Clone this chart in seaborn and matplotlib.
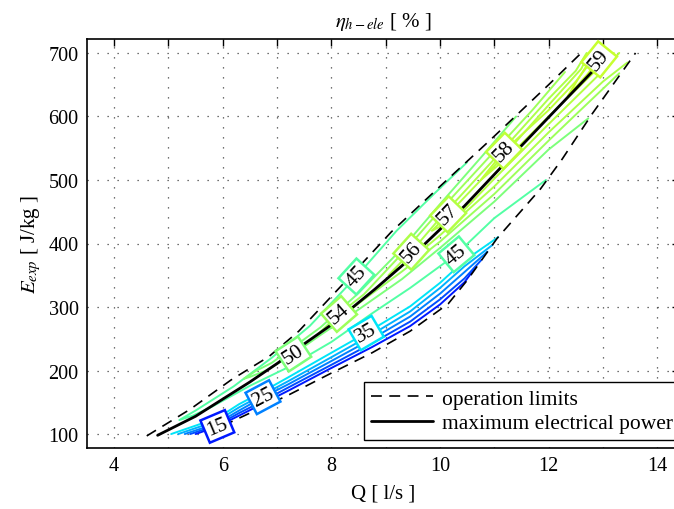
import math
import matplotlib
matplotlib.use("Agg")
import matplotlib.pyplot as plt
import seaborn as sns
from matplotlib.lines import Line2D

# ------------------------------------------------------------------ data
x_ticks = [4, 5, 6, 7, 8, 9, 10, 11, 12, 13, 14]
x_tick_labels = ["4", "", "6", "", "8", "", "10", "", "12", "", "14"]
y_ticks = [100, 200, 300, 400, 500, 600, 700]

# operation limits (upper and lower) and maximum electrical power line
upper_q = [4.6, 5.4, 6.15, 6.85, 7.4, 8.2, 9.1, 10.0, 10.95, 12.0, 12.6]
upper_e = [97, 139, 185, 222, 262, 335, 418, 490, 565, 650, 700]
lower_q = [6.0, 6.3, 7.2, 8.0, 8.75, 9.45, 10.15, 10.5, 11.05, 11.85, 12.25, 12.8, 13.6]
lower_e = [113, 125, 161, 196, 228, 262, 305, 342, 408, 486, 533, 604, 700]
pmax_q = [4.8, 5.5, 6.0, 6.5, 7.0, 7.5, 8.0, 8.8, 9.3, 10.45, 11.5, 12.55, 13.13]
pmax_e = [98, 128, 155, 182, 211, 242, 272, 328, 365, 459, 554, 648, 700]

# efficiency iso-lines  eta_h-ele [%]
c15_q = [5.5, 5.9, 6.3, 6.74, 7.2, 8.0, 8.75, 9.45, 10.0, 10.45, 10.65]
c15_e = [100, 112, 129, 148, 168, 204, 237, 270, 304, 339, 362]
c20_q = [5.4, 5.9, 6.3, 6.74, 7.2, 8.0, 8.75, 9.45, 10.0, 10.45, 10.76]
c20_e = [100, 114, 133, 152, 173, 209, 243, 277, 312, 345, 374]
c25_q = [5.3, 5.9, 6.3, 6.74, 7.2, 8.0, 8.75, 9.45, 10.0, 10.45, 10.87]
c25_e = [100, 117, 137, 158, 178, 215, 250, 285, 321, 355, 387]
c30_q = [5.18, 5.9, 6.3, 6.74, 7.2, 8.0, 8.75, 9.45, 10.0, 10.45, 10.97]
c30_e = [100, 121, 142, 162, 183, 221, 257, 293, 330, 364, 398]
c35_q = [5.05, 5.9, 6.3, 6.74, 7.2, 8.0, 8.64, 9.45, 10.0, 10.45, 11.07]
c35_e = [100, 125, 147, 167, 189, 228, 259, 301, 338, 373, 410]
c45_q = [11.95, 11.0, 10.3, 9.45, 8.75, 8.0, 7.2, 6.5, 5.8, 5.45, 5.2,
         5.5, 6.2, 6.9, 7.6, 8.46, 9.2, 9.9, 10.5]
c45_e = [500, 440, 383, 330, 290, 245, 205, 176, 143, 129, 122,
         137, 175, 220, 270, 348, 420, 479, 528]
c50_q = [12.73, 12.0, 11.0, 10.0, 9.3, 8.5, 7.8, 7.3, 6.8, 6.5, 6.39,
         6.6, 6.9, 7.4, 7.8, 8.5, 9.3, 10.0, 10.8, 11.4]
c50_e = [597, 548, 466, 393, 344, 296, 256, 226, 200, 190, 187,
         199, 212, 243, 268, 322, 392, 462, 540, 600]
c54_q = [13.3, 12.5, 12.0, 11.0, 10.0, 9.3, 8.6, 8.1, 7.75,
         8.14, 8.6, 9.3, 10.0, 11.0, 11.7, 12.3]
c54_e = [668, 603, 562, 478, 403, 356, 312, 279, 257,
         289, 320, 384, 452, 545, 610, 670]
c56_q = [13.45, 13.0, 12.0, 11.0, 10.0, 9.5, 9.05,
         9.47, 10.0, 11.0, 12.0, 12.5, 12.7]
c56_e = [685, 655, 575, 490, 413, 377, 350,
         387, 440, 533, 628, 672, 700]
c57_q = [13.3, 13.0, 12.0, 11.0, 10.3, 9.85,
         10.15, 11.0, 12.0, 12.6, 12.75]
c57_e = [700, 672, 588, 502, 440, 420,
         446, 522, 618, 675, 700]
c58_q = [13.2, 12.0, 11.3, 10.75, 11.18, 12.0, 12.5, 12.9]
c58_e = [700, 600, 540, 500, 546, 610, 655, 700]
c59_q = [13.03, 12.93, 12.7, 12.35, 12.55, 12.85]
c59_e = [700, 690, 665, 632, 660, 700]

levels = [15, 20, 25, 30, 35, 45, 50, 54, 56, 57, 58, 59]
level_q = [c15_q, c20_q, c25_q, c30_q, c35_q, c45_q, c50_q, c54_q, c56_q, c57_q, c58_q, c59_q]
level_e = [c15_e, c20_e, c25_e, c30_e, c35_e, c45_e, c50_e, c54_e, c56_e, c57_e, c58_e, c59_e]
# (level, vertex index on that iso-line where the inline label sits)
label_vertices = [(15, 1), (25, 3), (35, 6), (45, 2), (45, 15), (50, 7),
                  (54, 9), (56, 7), (57, 6), (58, 4), (59, 1)]

# ------------------------------------------------------------------ style
sns.set_theme(style="white")
plt.rcParams["font.family"] = ["Liberation Serif", "DejaVu Serif"]
plt.rcParams["mathtext.fontset"] = "stix"
plt.rcParams["text.color"] = "black"
plt.rcParams["axes.labelcolor"] = "black"

fig = plt.figure(figsize=(6.74, 5.10), dpi=100)
ax = fig.add_axes([87 / 674, 61 / 510, 592 / 674, 409 / 510])
ax.set_xlim(3.5, 14.4)
ax.set_ylim(78, 722)

cmap = plt.get_cmap("jet")

for lev, qs, es in zip(levels, level_q, level_e):
    sns.lineplot(x=qs, y=es, sort=False, estimator=None, color=cmap(lev / 100.0),
                 linewidth=1.4, ax=ax, zorder=3)

dash = (0, (6.5, 4.5))
sns.lineplot(x=upper_q, y=upper_e, sort=False, estimator=None, color="black",
             linewidth=1.2, linestyle=dash, ax=ax, zorder=4)
sns.lineplot(x=lower_q, y=lower_e, sort=False, estimator=None, color="black",
             linewidth=1.2, linestyle=dash, ax=ax, zorder=4)
sns.lineplot(x=pmax_q, y=pmax_e, sort=False, estimator=None, color="black",
             linewidth=2.0, ax=ax, zorder=4)

# inline contour labels
fig.canvas.draw()
for lev, idx in label_vertices:
    k = levels.index(lev)
    qs, es = level_q[k], level_e[k]
    i0, i1 = max(idx - 1, 0), min(idx + 1, len(qs) - 1)
    p0 = ax.transData.transform((qs[i0], es[i0]))
    p1 = ax.transData.transform((qs[i1], es[i1]))
    ang = math.degrees(math.atan2(p1[1] - p0[1], p1[0] - p0[0]))
    if ang > 90:
        ang -= 180
    if ang < -90:
        ang += 180
    ax.text(qs[idx], es[idx], str(lev), rotation=ang, rotation_mode="anchor",
            ha="center", va="center", fontsize=15.5, color="black", zorder=6,
            bbox=dict(boxstyle="square,pad=0.12", fc="white",
                      ec=cmap(lev / 100.0), lw=1.8))

# axes cosmetics
ax.set_xticks(x_ticks)
ax.set_xticklabels(x_tick_labels)
ax.set_yticks(y_ticks)
ax.tick_params(direction="in", length=5, width=1, top=True, right=True,
               labelsize=14.5, colors="black", pad=6)
ax.grid(True, linestyle=(0, (1, 7)), color="#444444", linewidth=0.9)
ax.set_axisbelow(True)
for s in ax.spines.values():
    s.set_color("black")
    s.set_linewidth(1.2)

ax.set_title(r"$\eta_{h-ele}$ [ % ]", fontsize=15, pad=9)
ax.set_xlabel("Q [ l/s ]", fontsize=15, labelpad=6)
ax.set_ylabel(r"$E_{exp}$ [ J/kg ]", fontsize=15, labelpad=4)

handles = [Line2D([], [], color="black", lw=1.2, linestyle=dash),
           Line2D([], [], color="black", lw=2.0)]
leg = ax.legend(handles, ["operation limits", "maximum electrical power"],
                loc="lower left", bbox_to_anchor=(0.468, 0.02), fontsize=15.5,
                frameon=True, fancybox=False, framealpha=1, edgecolor="black",
                handlelength=2.9, handletextpad=0.4, borderpad=0.3,
                labelspacing=0.2, borderaxespad=0)
leg.get_frame().set_linewidth(1.0)
leg.set_zorder(10)

fig.savefig("out.png", dpi=100)
